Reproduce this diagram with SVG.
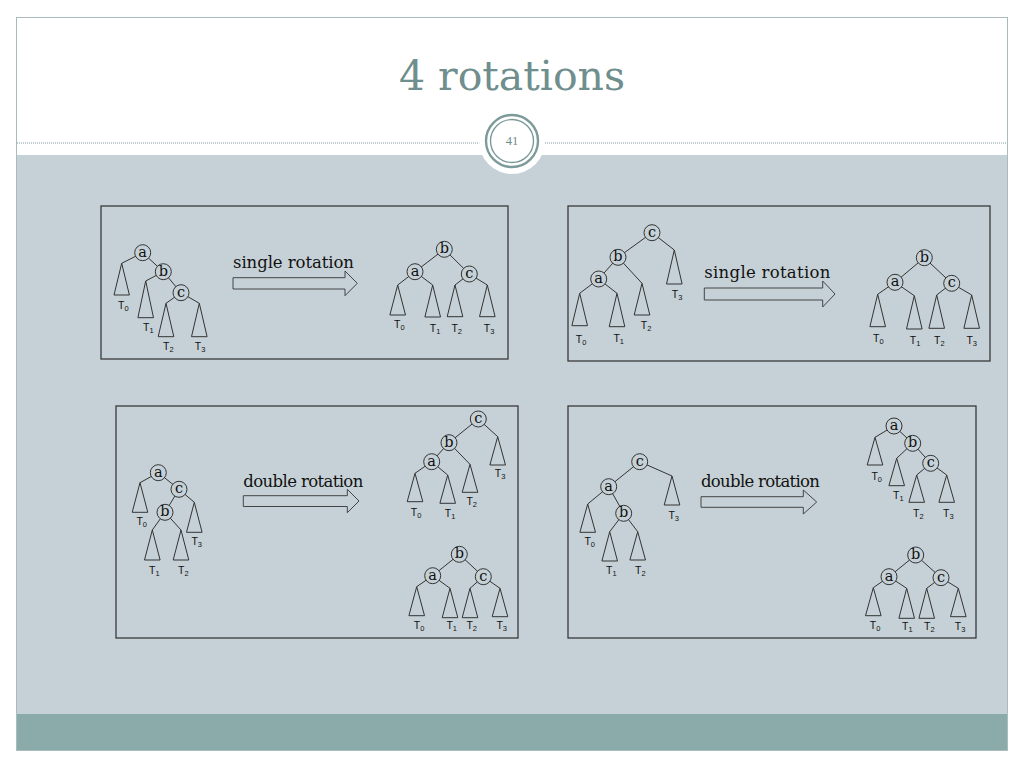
<svg xmlns="http://www.w3.org/2000/svg" width="1024" height="768" viewBox="0 0 1024 768">
<style>
.edge{stroke:#333;stroke-width:1;fill:none}
.nd circle{fill:#c6d1d7;stroke:#333;stroke-width:1}
.nd text{font-family:"DejaVu Serif",serif;font-size:14.5px;text-anchor:middle;fill:#111}
.st polygon{fill:none;stroke:#333;stroke-width:1}
.st text{font-family:"Liberation Sans",Arial,sans-serif;font-size:10.5px;text-anchor:middle;fill:#111}
.sb{font-size:7.5px}
.panel{fill:none;stroke:#3a3a3a;stroke-width:1.3}
.arrow{fill:none;stroke:#444;stroke-width:1}
.lbl{font-family:"DejaVu Serif",serif;font-size:16.5px;fill:#111}
</style>
<rect x="0" y="0" width="1024" height="768" fill="#ffffff"/>
<g id="slide">
<rect x="16.5" y="17.5" width="991" height="733" fill="#ffffff" stroke="#a9bdbd" stroke-width="1"/>
<rect x="17" y="155" width="990" height="559" fill="#c6d1d7"/>
<rect x="17" y="714" width="990" height="36" fill="#8aabaa"/>
<line x1="17" y1="143" x2="485" y2="143" stroke="#7f9c9c" stroke-width="1" stroke-dasharray="1,1"/>
<line x1="539" y1="143" x2="1007" y2="143" stroke="#7f9c9c" stroke-width="1" stroke-dasharray="1,1"/>
<circle cx="512" cy="141" r="33" fill="#ffffff"/>
<circle cx="512" cy="141" r="26" fill="none" stroke="#7d9a9a" stroke-width="2.4"/>
<circle cx="512" cy="141" r="21.5" fill="none" stroke="#7d9a9a" stroke-width="1.4"/>
<text x="512" y="145" text-anchor="middle" font-family="Liberation Serif,serif" font-size="12.5" fill="#6e8c8c">41</text>
<text x="512" y="90" text-anchor="middle" font-family="DejaVu Serif,serif" font-size="41" fill="#6f8e8e">4 rotations</text>
</g>

<g id="panels">
<rect class="panel" x="101" y="206" width="407" height="153"/>
<rect class="panel" x="568" y="206" width="422" height="155"/>
<rect class="panel" x="116" y="406" width="402" height="232"/>
<rect class="panel" x="568" y="406" width="408" height="232"/>
</g>

<g id="connectors">
<path class="edge" d="M142.7,252.7 L121.7,263.3 M142.7,252.7 L163.3,271.7 M163.3,271.7 L145.7,281 M163.3,271.7 L181,292.7 M181,292.7 L166,303.3 M181,292.7 L199.3,303.3"/>
<path class="edge" d="M444.3,249.3 L415,271.7 M444.3,249.3 L469.3,274 M415,271.7 L397.7,285 M415,271.7 L432.7,285 M469.3,274 L455,285 M469.3,274 L487.3,285"/>
<path class="edge" d="M652,232.7 L618,257.3 M652,232.7 L674.3,250 M618,257.3 L598.7,279 M618,257.3 L642,283.3 M598.7,279 L579.7,293.3 M598.7,279 L617,293.3"/>
<path class="edge" d="M924.3,257.7 L895,282.3 M924.3,257.7 L951.7,283.3 M895,282.3 L877.7,294.3 M895,282.3 L914.3,295.7 M951.7,283.3 L936.7,295 M951.7,283.3 L971.7,295"/>
<path class="edge" d="M158.3,472.7 L140,482.7 M158.3,472.7 L179,489.3 M179,489.3 L165,512.3 M179,489.3 L194.3,502.3 M165,512.3 L152.3,530 M165,512.3 L181,530"/>
<path class="edge" d="M478.3,419 L449,442.7 M478.3,419 L497.7,436.7 M449,442.7 L431.7,461.7 M449,442.7 L470,464.3 M431.7,461.7 L415,473.3 M431.7,461.7 L447.7,475"/>
<path class="edge" d="M459.3,554.3 L432.7,575.7 M459.3,554.3 L483.3,576.7 M432.7,575.7 L416.7,586.7 M432.7,575.7 L450,588.3 M483.3,576.7 L470,588.3 M483.3,576.7 L500,588.3"/>
<path class="edge" d="M639.7,461.7 L608.7,486.7 M639.7,461.7 L672,476 M608.7,486.7 L587.7,504 M608.7,486.7 L623.7,513.3 M623.7,513.3 L609.7,531.7 M623.7,513.3 L637.7,531.7"/>
<path class="edge" d="M894,426 L875,437.3 M894,426 L912.7,443.3 M912.7,443.3 L896.7,458.3 M912.7,443.3 L930.7,463.3 M930.7,463.3 L916.7,475 M930.7,463.3 L946.7,475"/>
<path class="edge" d="M915.7,555 L889,576.7 M915.7,555 L941,577.7 M889,576.7 L873.3,587.7 M889,576.7 L906.7,588.3 M941,577.7 L926.7,588.3 M941,577.7 L958.3,588.3"/>
<path class="arrow" d="M233,277.7 H345 V271 L357.3,283.3 L345,295.7 V289 H233 Z"/>
<path class="arrow" d="M704.3,288 H822.7 V281 L835,294 L822.7,307 V300 H704.3 Z"/>
<path class="arrow" d="M243.3,495.7 H347.3 V489.3 L359,501 L347.3,512.7 V506.5 H243.3 Z"/>
<path class="arrow" d="M701,496.7 H803.3 V490 L816.7,502 L803.3,514 V507.3 H701 Z"/>
</g>

<g id="labels">
<text class="lbl" x="233" y="268" textLength="121">single rotation</text>
<text class="lbl" x="704.3" y="277.7" textLength="126">single rotation</text>
<text class="lbl" x="243.3" y="486.7" textLength="120">double rotation</text>
<text class="lbl" x="701" y="486.7" textLength="119">double rotation</text>
</g>

<g id="p1L">
<g id="p1L-a" class="nd"><circle cx="142.7" cy="252.7" r="8"/><text x="142.7" y="256.7">a</text></g>
<g id="p1L-b" class="nd"><circle cx="163.3" cy="271.7" r="8"/><text x="163.3" y="275.7">b</text></g>
<g id="p1L-c" class="nd"><circle cx="181" cy="292.7" r="8"/><text x="181" y="296.7">c</text></g>
<g id="p1L-T0" class="st"><polygon points="121.7,263.3 114,295 129.4,295"/><text x="123.3" y="309.2">T<tspan class="sb" dy="2">0</tspan></text></g>
<g id="p1L-T1" class="st"><polygon points="145.7,281 137.9,317.7 153.5,317.7"/><text x="148.3" y="331.2">T<tspan class="sb" dy="2">1</tspan></text></g>
<g id="p1L-T2" class="st"><polygon points="166,303.3 158.2,336.7 173.8,336.7"/><text x="168.3" y="350.2">T<tspan class="sb" dy="2">2</tspan></text></g>
<g id="p1L-T3" class="st"><polygon points="199.3,303.3 191.5,336.7 207.1,336.7"/><text x="200" y="350.2">T<tspan class="sb" dy="2">3</tspan></text></g>
</g>

<g id="p1R">
<g id="p1R-b" class="nd"><circle cx="444.3" cy="249.3" r="8"/><text x="444.3" y="253.3">b</text></g>
<g id="p1R-a" class="nd"><circle cx="415" cy="271.7" r="8"/><text x="415" y="275.7">a</text></g>
<g id="p1R-c" class="nd"><circle cx="469.3" cy="274" r="8"/><text x="469.3" y="278">c</text></g>
<g id="p1R-T0" class="st"><polygon points="397.7,285 389.9,315 405.5,315"/><text x="399.3" y="327.8">T<tspan class="sb" dy="2">0</tspan></text></g>
<g id="p1R-T1" class="st"><polygon points="432.7,285 424.9,317 440.5,317"/><text x="435" y="332">T<tspan class="sb" dy="2">1</tspan></text></g>
<g id="p1R-T2" class="st"><polygon points="455,285 447.2,316.7 462.8,316.7"/><text x="456.7" y="331.5">T<tspan class="sb" dy="2">2</tspan></text></g>
<g id="p1R-T3" class="st"><polygon points="487.3,285 479.5,316.7 495.1,316.7"/><text x="489" y="331.5">T<tspan class="sb" dy="2">3</tspan></text></g>
</g>

<g id="p2L">
<g id="p2L-c" class="nd"><circle cx="652" cy="232.7" r="8"/><text x="652" y="236.7">c</text></g>
<g id="p2L-b" class="nd"><circle cx="618" cy="257.3" r="8"/><text x="618" y="261.3">b</text></g>
<g id="p2L-a" class="nd"><circle cx="598.7" cy="279" r="8"/><text x="598.7" y="283">a</text></g>
<g id="p2L-T3" class="st"><polygon points="674.3,250 666.5,284 682.1,284"/><text x="677" y="297.8">T<tspan class="sb" dy="2">3</tspan></text></g>
<g id="p2L-T2" class="st"><polygon points="642,283.3 634.2,315 649.8,315"/><text x="646" y="328.5">T<tspan class="sb" dy="2">2</tspan></text></g>
<g id="p2L-T0" class="st"><polygon points="579.7,293.3 571.9,325.7 587.5,325.7"/><text x="581" y="343">T<tspan class="sb" dy="2">0</tspan></text></g>
<g id="p2L-T1" class="st"><polygon points="617,293.3 609.2,326.7 624.8,326.7"/><text x="618.7" y="342">T<tspan class="sb" dy="2">1</tspan></text></g>
</g>

<g id="p2R">
<g id="p2R-b" class="nd"><circle cx="924.3" cy="257.7" r="8"/><text x="924.3" y="261.7">b</text></g>
<g id="p2R-a" class="nd"><circle cx="895" cy="282.3" r="8"/><text x="895" y="286.3">a</text></g>
<g id="p2R-c" class="nd"><circle cx="951.7" cy="283.3" r="8"/><text x="951.7" y="287.3">c</text></g>
<g id="p2R-T0" class="st"><polygon points="877.7,294.3 869.9,326.7 885.5,326.7"/><text x="878.3" y="341.8">T<tspan class="sb" dy="2">0</tspan></text></g>
<g id="p2R-T1" class="st"><polygon points="914.3,295.7 906.5,329 922.1,329"/><text x="915" y="343.5">T<tspan class="sb" dy="2">1</tspan></text></g>
<g id="p2R-T2" class="st"><polygon points="936.7,295 928.9,328.3 944.5,328.3"/><text x="939.3" y="343.5">T<tspan class="sb" dy="2">2</tspan></text></g>
<g id="p2R-T3" class="st"><polygon points="971.7,295 963.9,328.3 979.5,328.3"/><text x="971.7" y="343.5">T<tspan class="sb" dy="2">3</tspan></text></g>
</g>

<g id="p3L">
<g id="p3L-a" class="nd"><circle cx="158.3" cy="472.7" r="8"/><text x="158.3" y="476.7">a</text></g>
<g id="p3L-c" class="nd"><circle cx="179" cy="489.3" r="8"/><text x="179" y="493.3">c</text></g>
<g id="p3L-b" class="nd"><circle cx="165" cy="512.3" r="8"/><text x="165" y="516.3">b</text></g>
<g id="p3L-T0" class="st"><polygon points="140,482.7 132.2,512.3 147.8,512.3"/><text x="141.7" y="525.2">T<tspan class="sb" dy="2">0</tspan></text></g>
<g id="p3L-T3" class="st"><polygon points="194.3,502.3 186.5,532.3 202.1,532.3"/><text x="196.7" y="545.2">T<tspan class="sb" dy="2">3</tspan></text></g>
<g id="p3L-T1" class="st"><polygon points="152.3,530 144.5,560 160.1,560"/><text x="154.3" y="573.5">T<tspan class="sb" dy="2">1</tspan></text></g>
<g id="p3L-T2" class="st"><polygon points="181,530 173.2,560 188.8,560"/><text x="183.3" y="573.5">T<tspan class="sb" dy="2">2</tspan></text></g>
</g>

<g id="p3RT">
<g id="p3RT-c" class="nd"><circle cx="478.3" cy="419" r="8"/><text x="478.3" y="423">c</text></g>
<g id="p3RT-b" class="nd"><circle cx="449" cy="442.7" r="8"/><text x="449" y="446.7">b</text></g>
<g id="p3RT-a" class="nd"><circle cx="431.7" cy="461.7" r="8"/><text x="431.7" y="465.7">a</text></g>
<g id="p3RT-T3" class="st"><polygon points="497.7,436.7 489.9,465 505.5,465"/><text x="500" y="476.8">T<tspan class="sb" dy="2">3</tspan></text></g>
<g id="p3RT-T2" class="st"><polygon points="470,464.3 462.2,492.3 477.8,492.3"/><text x="471.7" y="505.2">T<tspan class="sb" dy="2">2</tspan></text></g>
<g id="p3RT-T0" class="st"><polygon points="415,473.3 407.2,501.7 422.8,501.7"/><text x="416" y="516.2">T<tspan class="sb" dy="2">0</tspan></text></g>
<g id="p3RT-T1" class="st"><polygon points="447.7,475 439.9,503.3 455.5,503.3"/><text x="450" y="516.8">T<tspan class="sb" dy="2">1</tspan></text></g>
</g>

<g id="p3RB">
<g id="p3RB-b" class="nd"><circle cx="459.3" cy="554.3" r="8"/><text x="459.3" y="558.3">b</text></g>
<g id="p3RB-a" class="nd"><circle cx="432.7" cy="575.7" r="8"/><text x="432.7" y="579.7">a</text></g>
<g id="p3RB-c" class="nd"><circle cx="483.3" cy="576.7" r="8"/><text x="483.3" y="580.7">c</text></g>
<g id="p3RB-T0" class="st"><polygon points="416.7,586.7 408.9,615.7 424.5,615.7"/><text x="419" y="628.5">T<tspan class="sb" dy="2">0</tspan></text></g>
<g id="p3RB-T1" class="st"><polygon points="450,588.3 442.2,617.7 457.8,617.7"/><text x="451.7" y="628.5">T<tspan class="sb" dy="2">1</tspan></text></g>
<g id="p3RB-T2" class="st"><polygon points="470,588.3 462.2,617.7 477.8,617.7"/><text x="471.7" y="629">T<tspan class="sb" dy="2">2</tspan></text></g>
<g id="p3RB-T3" class="st"><polygon points="500,588.3 492.2,616.7 507.8,616.7"/><text x="501.7" y="629">T<tspan class="sb" dy="2">3</tspan></text></g>
</g>

<g id="p4L">
<g id="p4L-c" class="nd"><circle cx="639.7" cy="461.7" r="8"/><text x="639.7" y="465.7">c</text></g>
<g id="p4L-a" class="nd"><circle cx="608.7" cy="486.7" r="8"/><text x="608.7" y="490.7">a</text></g>
<g id="p4L-b" class="nd"><circle cx="623.7" cy="513.3" r="8"/><text x="623.7" y="517.3">b</text></g>
<g id="p4L-T3" class="st"><polygon points="672,476 664.2,505 679.8,505"/><text x="673.7" y="518.5">T<tspan class="sb" dy="2">3</tspan></text></g>
<g id="p4L-T0" class="st"><polygon points="587.7,504 579.9,532.3 595.5,532.3"/><text x="589.7" y="545.2">T<tspan class="sb" dy="2">0</tspan></text></g>
<g id="p4L-T1" class="st"><polygon points="609.7,531.7 601.9,561 617.5,561"/><text x="611.3" y="573.5">T<tspan class="sb" dy="2">1</tspan></text></g>
<g id="p4L-T2" class="st"><polygon points="637.7,531.7 629.9,560 645.5,560"/><text x="640.3" y="573.5">T<tspan class="sb" dy="2">2</tspan></text></g>
</g>

<g id="p4RT">
<g id="p4RT-a" class="nd"><circle cx="894" cy="426" r="8"/><text x="894" y="430">a</text></g>
<g id="p4RT-b" class="nd"><circle cx="912.7" cy="443.3" r="8"/><text x="912.7" y="447.3">b</text></g>
<g id="p4RT-c" class="nd"><circle cx="930.7" cy="463.3" r="8"/><text x="930.7" y="467.3">c</text></g>
<g id="p4RT-T0" class="st"><polygon points="875,437.3 867.2,465 882.8,465"/><text x="876.7" y="480.2">T<tspan class="sb" dy="2">0</tspan></text></g>
<g id="p4RT-T1" class="st"><polygon points="896.7,458.3 888.9,485.7 904.5,485.7"/><text x="898.3" y="498.5">T<tspan class="sb" dy="2">1</tspan></text></g>
<g id="p4RT-T2" class="st"><polygon points="916.7,475 908.9,502.3 924.5,502.3"/><text x="918.3" y="516.8">T<tspan class="sb" dy="2">2</tspan></text></g>
<g id="p4RT-T3" class="st"><polygon points="946.7,475 938.9,502.3 954.5,502.3"/><text x="948.3" y="516.8">T<tspan class="sb" dy="2">3</tspan></text></g>
</g>

<g id="p4RB">
<g id="p4RB-b" class="nd"><circle cx="915.7" cy="555" r="8"/><text x="915.7" y="559">b</text></g>
<g id="p4RB-a" class="nd"><circle cx="889" cy="576.7" r="8"/><text x="889" y="580.7">a</text></g>
<g id="p4RB-c" class="nd"><circle cx="941" cy="577.7" r="8"/><text x="941" y="581.7">c</text></g>
<g id="p4RB-T0" class="st"><polygon points="873.3,587.7 865.5,615.7 881.1,615.7"/><text x="875" y="628.5">T<tspan class="sb" dy="2">0</tspan></text></g>
<g id="p4RB-T1" class="st"><polygon points="906.7,588.3 898.9,618.3 914.5,618.3"/><text x="907.3" y="630.2">T<tspan class="sb" dy="2">1</tspan></text></g>
<g id="p4RB-T2" class="st"><polygon points="926.7,588.3 918.9,618.3 934.5,618.3"/><text x="929.3" y="630.2">T<tspan class="sb" dy="2">2</tspan></text></g>
<g id="p4RB-T3" class="st"><polygon points="958.3,588.3 950.5,616.7 966.1,616.7"/><text x="960" y="630.2">T<tspan class="sb" dy="2">3</tspan></text></g>
</g>
</svg>
